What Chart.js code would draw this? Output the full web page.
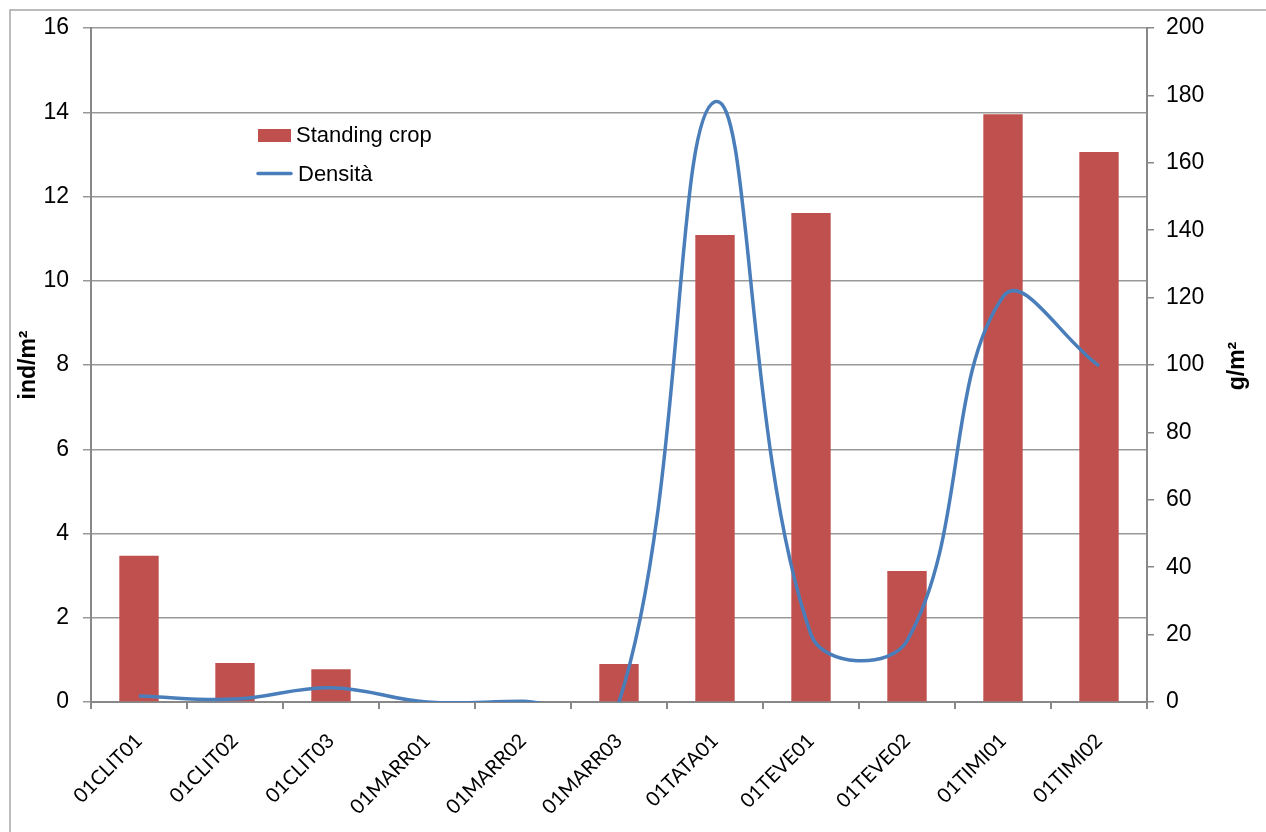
<!DOCTYPE html>
<html>
<head>
<meta charset="utf-8">
<script src="https://cdn.jsdelivr.net/npm/chart.js@4/dist/chart.umd.min.js"></script>
<style>
  body { margin: 0; background: #fff; }
  canvas { display: block; }
</style>
</head>
<body>
<canvas id="chart" width="1266" height="832"></canvas>
<script>
// stazioni
const categorie = ['01CLIT01', '01CLIT02', '01CLIT03', '01MARR01', '01MARR02', '01MARR03',
  '01TATA01', '01TEVE01', '01TEVE02', '01TIMI01', '01TIMI02'];
// standing crop, g/m2 (asse destro)
const standingCrop = [43.4, 11.6, 9.7, 0, 0, 11.3, 138.6, 145.1, 38.9, 174.4, 163.2];
// densita, ind/m2 (asse sinistro)
const densita = [0.14, 0.07, 0.34, 0, 0.02, 0, 14.25, 1.6, 1.45, 9.62, 7.98];

const ticksSx = [0, 2, 4, 6, 8, 10, 12, 14, 16];
const ticksDx = [0, 20, 40, 60, 80, 100, 120, 140, 160, 180, 200];

const ROSSO = '#C0504D';
const BLU = '#4A7EBB';

const cornice = {
  id: 'cornice',
  beforeDraw(chart) {
    const ctx = chart.ctx;
    ctx.save();
    ctx.fillStyle = '#fff';
    ctx.fillRect(0, 0, chart.width, chart.height);
    ctx.strokeStyle = '#a6a6a6';
    ctx.lineWidth = 1.5;
    ctx.strokeRect(10, 10, 1400, 1000);
    ctx.restore();
  }
};

// legenda dentro l'area del grafico + titoli assi
const extra = {
  id: 'extra',
  afterDraw(chart) {
    const ctx = chart.ctx;
    ctx.save();
    ctx.fillStyle = ROSSO;
    ctx.fillRect(258, 129, 33, 13);
    ctx.strokeStyle = BLU;
    ctx.lineWidth = 3.5;
    ctx.lineCap = 'round';
    ctx.beginPath();
    ctx.moveTo(258, 173.5);
    ctx.lineTo(291, 173.5);
    ctx.stroke();
    ctx.fillStyle = '#000';
    ctx.font = '22px "Liberation Sans"';
    ctx.textBaseline = 'middle';
    ctx.fillText(chart.data.datasets[0].label, 296, 136);
    ctx.fillText(chart.data.datasets[1].label, 298, 175);

    ctx.font = 'bold 23px "Liberation Sans"';
    ctx.textAlign = 'center';
    ctx.translate(29, 365);
    ctx.rotate(-Math.PI / 2);
    ctx.fillText('ind/m²', 0, 0);
    ctx.restore();

    ctx.save();
    ctx.fillStyle = '#000';
    ctx.font = 'bold 23px "Liberation Sans"';
    ctx.textAlign = 'center';
    ctx.textBaseline = 'middle';
    ctx.translate(1238, 366);
    ctx.rotate(-Math.PI / 2);
    ctx.fillText('g/m²', 0, 0);
    ctx.restore();
  }
};

const grafico = function () {
  const data = {
    labels: categorie,
    datasets: [
      {
        type: 'bar',
        label: 'Standing crop',
        data: standingCrop,
        backgroundColor: ROSSO,
        yAxisID: 'y1',
        categoryPercentage: 1,
        barPercentage: 0.41,
        order: 2
      },
      {
        type: 'line',
        label: 'Densità',
        data: densita,
        borderColor: BLU,
        borderWidth: 3.5,
        pointRadius: 0,
        tension: 0.4,
        yAxisID: 'y',
        order: 1
      }
    ]
  };

  const tickFont = { family: 'Liberation Sans', size: 23 };

  const config = {
    type: 'bar',
    data: data,
    plugins: [cornice, extra],
    options: {
      responsive: false,
      animation: false,
      devicePixelRatio: 1,
      layout: { padding: { top: 28, left: 0, right: 0, bottom: 0 } },
      elements: { line: { capBezierPoints: false } },
      plugins: {
        legend: { display: false },
        tooltip: { enabled: false }
      },
      scales: {
        x: {
          offset: true,
          grid: { offset: true, drawOnChartArea: false, tickLength: 7, color: '#888', lineWidth: 2 },
          border: { color: '#888', width: 2 },
          ticks: {
            minRotation: 45,
            maxRotation: 45,
            autoSkip: false,
            padding: 20,
            color: '#000',
            font: { family: 'Lato', size: 20 }
          },
          afterFit: s => { s.height = 130; }
        },
        y: {
          position: 'left',
          min: 0,
          max: 16,
          afterBuildTicks: s => { s.ticks = ticksSx.map(v => ({ value: v })); },
          grid: { color: '#999', lineWidth: 1.5, tickLength: 8 },
          border: { color: '#888', width: 2 },
          ticks: { color: '#000', font: tickFont, padding: 14 },
          afterFit: s => { s.width = 91; }
        },
        y1: {
          position: 'right',
          min: 0,
          max: 200,
          afterBuildTicks: s => { s.ticks = ticksDx.map(v => ({ value: v })); },
          grid: { drawOnChartArea: false, color: '#888', lineWidth: 1.5, tickLength: 7 },
          border: { color: '#888', width: 2 },
          ticks: { color: '#000', font: tickFont, padding: 12 },
          afterFit: s => { s.width = 119; }
        }
      }
    }
  };

  new Chart(document.getElementById('chart'), config);
};

document.addEventListener('DOMContentLoaded', function () {
  grafico();
});
</script>
</body>
</html>
